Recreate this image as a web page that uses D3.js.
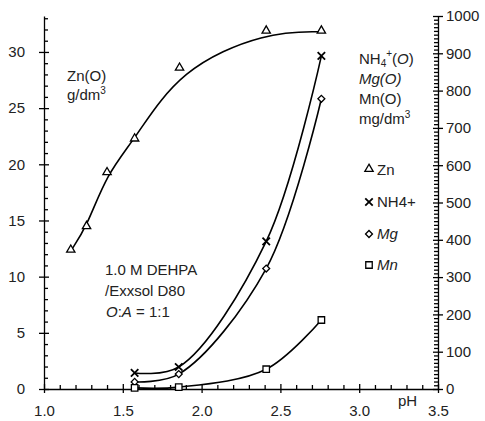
<!DOCTYPE html>
<html>
<head>
<meta charset="utf-8">
<script src="https://cdn.jsdelivr.net/npm/d3@7"></script>
<style>
  html, body { margin: 0; padding: 0; background: #fff; }
  svg { display: block; font-family: "Liberation Sans", Arial, sans-serif; }
  .axis path, .axis line { stroke: #000; stroke-width: 1.3; }
  .axis text { font-size: 15px; fill: #222; font-family: "Liberation Sans", Arial, sans-serif; }
  .ann { font-size: 15px; fill: #222; }
</style>
</head>
<body>
<svg id="chart" width="485" height="421"></svg>
<script>
// ---- data ----
const znPH   = [1.17, 1.27, 1.40, 1.575, 1.86, 2.41, 2.76];
const znVal  = [12.3, 14.4, 19.2, 22.2, 28.5, 31.8, 31.8];        // g/dm3 (left)
const otherPH = [1.575, 1.855, 2.41, 2.76];
const nh4Val = [43, 59, 396, 893];                                 // mg/dm3 (right)
const mgVal  = [19, 40, 323, 778];
const mnVal  = [3, 5, 53, 185];
const xTicks = [1.0, 1.5, 2.0, 2.5, 3.0, 3.5];
const yLeftTicks = [0, 5, 10, 15, 20, 25, 30];
const yRightTicks = [0, 100, 200, 300, 400, 500, 600, 700, 800, 900, 1000];
const legendLabels = ["Zn", "NH4+", "Mg", "Mn"];

// ---- layout ----
const svg = d3.select("#chart");
const X0 = 44, X1 = 438, Y0 = 389, Y1 = 16;
const x = d3.scaleLinear().domain([1.0, 3.5]).range([X0, X1]);
const yL = d3.scaleLinear().domain([0, 33.2]).range([Y0, Y1]);
const yR = d3.scaleLinear().domain([0, 1000]).range([Y0, Y1]);

// minor ticks
const xMinor = d3.range(10, 36).map(d => d / 10).filter(d => Math.abs(d * 2 - Math.round(d * 2)) > 1e-6);
const yLMinor = d3.range(1, 34).filter(d => d % 5 !== 0);
const yRMinor = d3.range(10, 1000, 10).filter(d => d % 100 !== 0);

// bottom axis
const gx = svg.append("g").attr("class", "axis").attr("transform", `translate(0,${Y0})`)
  .call(d3.axisBottom(x).tickValues(xTicks).tickFormat(d3.format(".1f")).tickSize(4).tickPadding(12).tickSizeOuter(0));
gx.selectAll(".tick line").attr("y1", -5);
svg.append("g").attr("class", "axis").attr("transform", `translate(0,${Y0})`)
  .call(d3.axisTop(x).tickValues(xMinor).tickFormat("").tickSize(4).tickSizeOuter(0))
  .select(".domain").remove();

// left axis
const gl = svg.append("g").attr("class", "axis").attr("transform", `translate(${X0},0)`)
  .call(d3.axisLeft(yL).tickValues(yLeftTicks).tickFormat(d3.format("d")).tickSize(5).tickPadding(14).tickSizeOuter(0));
gl.selectAll(".tick line").attr("x1", 5);
svg.append("g").attr("class", "axis").attr("transform", `translate(${X0},0)`)
  .call(d3.axisRight(yL).tickValues(yLMinor).tickFormat("").tickSize(4).tickSizeOuter(0))
  .select(".domain").remove();

// right axis
const gr = svg.append("g").attr("class", "axis").attr("transform", `translate(${X1},0)`)
  .call(d3.axisRight(yR).tickValues(yRightTicks).tickFormat(d3.format("d")).tickSize(5).tickPadding(3).tickSizeOuter(0));
gr.selectAll(".tick line").attr("x1", -5);
svg.append("g").attr("class", "axis").attr("transform", `translate(${X1},0)`)
  .call(d3.axisLeft(yR).tickValues(yRMinor).tickFormat("").tickSize(4).tickSizeOuter(0))
  .select(".domain").remove();

// ---- curves ----
function drawLine(xs, ys, yScale, curve) {
  const pts = xs.map((v, i) => [x(v), yScale(ys[i])]);
  svg.append("path").attr("d", d3.line().curve(curve)(pts))
    .attr("fill", "none").attr("stroke", "#000").attr("stroke-width", 1.6);
}
const smooth = d3.curveCatmullRom.alpha(0.5);
drawLine(znPH, znVal, yL, d3.curveBasis);
drawLine(otherPH, nh4Val, yR, smooth);
drawLine(otherPH, mgVal, yR, smooth);
drawLine(otherPH, mnVal, yR, smooth);

// ---- markers ----
const symGen = {
  tri: d3.symbol().type(d3.symbolTriangle).size(30),
  cross: d3.symbol().type(d3.symbolX).size(38),
  dia: d3.symbol().type(d3.symbolSquare).size(24),
  sq: d3.symbol().type(d3.symbolSquare).size(42)
};
function marker(kind, cx, cy) {
  const p = svg.append("path").attr("d", symGen[kind]())
    .attr("fill", kind === "cross" ? "none" : "#fff")
    .attr("stroke", "#000").attr("stroke-width", kind === "cross" ? 1.8 : 1.3);
  p.attr("transform", `translate(${cx},${cy})` + (kind === "dia" ? " rotate(45)" : ""));
}
znPH.forEach((v, i) => marker("tri", x(v), yL(znVal[i]) - 1));
otherPH.forEach((v, i) => marker("cross", x(v), yR(nh4Val[i])));
otherPH.forEach((v, i) => marker("dia", x(v), yR(mgVal[i])));
otherPH.forEach((v, i) => marker("sq", x(v), yR(mnVal[i])));

// ---- annotations ----
function txt(t, tx, ty, italic) {
  return svg.append("text").attr("class", "ann").attr("x", tx).attr("y", ty)
    .style("font-style", italic ? "italic" : "normal").text(t);
}
// left axis unit
txt("Zn(O)", 67, 81);
const g1 = txt("g/dm", 67, 100); g1.append("tspan").attr("dy", -6).style("font-size", "10px").text("3");

// right axis units
const nh = svg.append("text").attr("class", "ann").attr("x", 359).attr("y", 64);
nh.append("tspan").text("NH");
nh.append("tspan").attr("dy", 3).style("font-size", "10px").text("4");
nh.append("tspan").attr("dy", -10).style("font-size", "10px").text("+");
nh.append("tspan").attr("dy", 7).text("(");
nh.append("tspan").style("font-style", "italic").text("O");
nh.append("tspan").text(")");
const mg = svg.append("text").attr("class", "ann").attr("x", 359).attr("y", 84);
mg.append("tspan").style("font-style", "italic").text("Mg(O)");
txt("Mn(O)", 359, 104);
const g2 = txt("mg/dm", 359, 124); g2.append("tspan").attr("dy", -6).style("font-size", "10px").text("3");

// conditions
txt("1.0 M DEHPA", 105, 275);
txt("/Exxsol D80", 105, 296);
const oa = svg.append("text").attr("class", "ann").attr("x", 106).attr("y", 317);
oa.append("tspan").style("font-style", "italic").text("O");
oa.append("tspan").text(":");
oa.append("tspan").style("font-style", "italic").text("A");
oa.append("tspan").text(" = 1:1");

// pH label
txt("pH", 398, 406);

// ---- legend ----
const legKinds = ["tri", "cross", "dia", "sq"];
const legY = [170, 202, 234, 265];
legendLabels.forEach((l, i) => {
  marker(legKinds[i], 369, legY[i] + (i === 0 ? -1 : 0));
  txt(l, 377, legY[i] + 5, i >= 2);
});
</script>
</body>
</html>
